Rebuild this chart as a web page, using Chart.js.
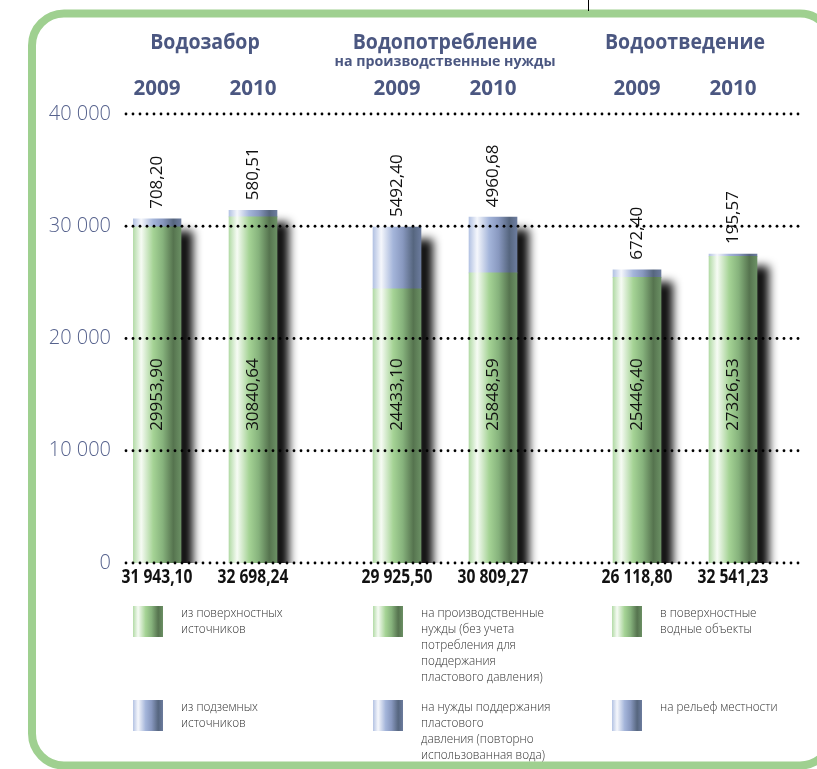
<!DOCTYPE html>
<html>
<head>
<meta charset="utf-8">
<script src="https://cdn.jsdelivr.net/npm/chart.js@4/dist/chart.umd.min.js"></script>
<style>
  html, body { margin: 0; padding: 0; background: #fff; overflow: hidden; }
  #wrap { width: 817px; height: 769px; position: relative; overflow: hidden; }
  canvas { display: block; }
</style>
</head>
<body>
<div id="wrap"><canvas id="canvas" width="817" height="769"></canvas></div>
<script>
// data
var groups = ['Водозабор', 'Водопотребление', 'Водоотведение'];
var groupSub = ['', 'на производственные нужды', ''];
var years = ['2009', '2010', '2009', '2010', '2009', '2010'];
var greenValues = [29953.90, 30840.64, 24433.10, 25848.59, 25446.40, 27326.53];
var blueValues = [708.20, 580.51, 5492.40, 4960.68, 672.40, 195.57];
var greenLabels = ['29953,90', '30840,64', '24433,10', '25848,59', '25446,40', '27326,53'];
var blueLabels = ['708,20', '580,51', '5492,40', '4960,68', '672,40', '195,57'];
var totals = ['31 943,10', '32 698,24', '29 925,50', '30 809,27', '26 118,80', '32 541,23'];
var yTicks = [0, 10000, 20000, 30000, 40000];
var legendGreen = [
    ['из поверхностных', 'источников'],
    ['на производственные', 'нужды (без учета', 'потребления для', 'поддержания', 'пластового давления)'],
    ['в поверхностные', 'водные объекты']
];
var legendBlue = [
    ['из подземных', 'источников'],
    ['на нужды поддержания', 'пластового', 'давления (повторно', 'использованная вода)'],
    ['на рельеф местности']
];

var greenStops = [[0, '#b3dba7'], [0.17, '#f6fbf4'], [0.42, '#a5d395'], [0.62, '#86b27c'], [0.84, '#56744f'], [1, '#6b9064']];
var blueStops = [[0, '#b4c3e3'], [0.17, '#f5f7fc'], [0.42, '#a4b5da'], [0.62, '#8898bf'], [0.84, '#56667f'], [1, '#6c7c9e']];

// slots: bar, gap, bar, gap, gap, ... so the groups sit apart
var slotLabels = [];
var slotBar = [];
var b = 0;
for (var g = 0; g < groups.length; g++) {
    slotLabels.push(years[b]); slotBar.push(b); b++;
    slotLabels.push(''); slotBar.push(-1);
    slotLabels.push(years[b]); slotBar.push(b); b++;
    if (g < groups.length - 1) {
        slotLabels.push(''); slotBar.push(-1);
        slotLabels.push(''); slotBar.push(-1);
    }
}
slotLabels.push(''); slotBar.push(-1);

var greenData = slotBar.map(i => i < 0 ? null : greenValues[i]);
var blueData = slotBar.map(i => i < 0 ? null : blueValues[i]);

function shade(stops) {
    return function (c) {
        var ch = c.chart;
        var xs = ch.scales.x;
        if (!ch.chartArea || !xs) return stops[2][1];
        var cx = xs.getPixelForValue(c.dataIndex);
        var w = xs.getPixelForValue(1) - xs.getPixelForValue(0);
        var gr = ch.ctx.createLinearGradient(cx - w / 2, 0, cx + w / 2, 0);
        stops.forEach(s => gr.addColorStop(s[0], s[1]));
        return gr;
    };
}

function txt(ctx, s, x, y, font, color, align, sx) {
    ctx.save();
    ctx.font = font;
    ctx.fillStyle = color;
    ctx.textAlign = align;
    ctx.textBaseline = 'middle';
    ctx.translate(x, y);
    ctx.scale(sx, 1);
    ctx.fillText(s, 0, 0);
    ctx.restore();
}

var headColor = '#4b5781';

var decor = {
    id: 'decor',
    beforeDraw: function (chart) {
        var ctx = chart.ctx;
        ctx.save();
        ctx.fillStyle = '#fff';
        ctx.fillRect(0, 0, chart.width, chart.height);
        // frame, its right side runs off the page
        ctx.strokeStyle = '#9fd090';
        ctx.lineWidth = 8;
        ctx.beginPath();
        ctx.roundRect(32, 13.5, 800, 752, 32);
        ctx.stroke();
        ctx.strokeStyle = '#000';
        ctx.lineWidth = 1;
        ctx.beginPath();
        ctx.moveTo(588.5, 0);
        ctx.lineTo(588.5, 11);
        ctx.stroke();
        ctx.restore();
    },
    beforeDatasetsDraw: function (chart) {
        var ctx = chart.ctx;
        var top = chart.getDatasetMeta(1).data;
        var bottom = chart.getDatasetMeta(0).data;
        ctx.save();
        ctx.beginPath();
        ctx.rect(chart.chartArea.left, chart.chartArea.top - 40, chart.chartArea.width, chart.chartArea.height + 40);
        ctx.clip();
        ctx.filter = 'blur(5px)';
        ctx.fillStyle = 'rgba(0,0,0,0.95)';
        slotBar.forEach(function (bi, k) {
            if (bi < 0) return;
            var el = top[k], el0 = bottom[k];
            var right = el.x + el.width / 2;
            ctx.fillRect(right - 6, el.y + 12, 18, el0.base - el.y);
        });
        ctx.restore();
    },
    afterDatasetsDraw: function (chart) {
        var ctx = chart.ctx;
        var ys = chart.scales.y;
        var xs = chart.scales.x;
        // dotted grid
        ctx.save();
        ctx.fillStyle = '#000';
        yTicks.forEach(function (v) {
            var y = ys.getPixelForValue(v);
            for (var x = 126; x <= 801; x += 7) {
                ctx.beginPath();
                ctx.arc(x, y, 1.4, 0, Math.PI * 2);
                ctx.fill();
            }
        });
        ctx.restore();

        var top = chart.getDatasetMeta(1).data;
        var labelLevel = ys.getPixelForValue(15000);
        slotBar.forEach(function (bi, k) {
            if (bi < 0) return;
            var cx = xs.getPixelForValue(k);
            // values inside and above bars
            ctx.save();
            ctx.translate(cx, labelLevel);
            ctx.rotate(-Math.PI / 2);
            ctx.font = '17px "Open Sans"';
            ctx.fillStyle = '#111';
            ctx.textAlign = 'center';
            ctx.textBaseline = 'middle';
            ctx.fillText(greenLabels[bi], 0, 0);
            ctx.restore();
            ctx.save();
            ctx.translate(cx, top[k].y - 10);
            ctx.rotate(-Math.PI / 2);
            ctx.font = '17px "Open Sans"';
            ctx.fillStyle = '#111';
            ctx.textAlign = 'left';
            ctx.textBaseline = 'middle';
            ctx.fillText(blueLabels[bi], 0, 0);
            ctx.restore();
            // years and totals
            txt(ctx, years[bi], cx, 89, 'bold 21px "Open Sans"', headColor, 'center', 0.98);
            txt(ctx, totals[bi], cx, 578, 'bold 19px "Open Sans"', '#111', 'center', 0.82);
        });

        // group headings
        for (var g = 0; g < groups.length; g++) {
            var c = (xs.getPixelForValue(slotBar.indexOf(g * 2)) + xs.getPixelForValue(slotBar.indexOf(g * 2 + 1))) / 2;
            txt(ctx, groups[g], c, 43, 'bold 21px "Open Sans"', headColor, 'center', 0.93);
            if (groupSub[g]) txt(ctx, groupSub[g], c, 62, 'bold 14.5px "Open Sans"', headColor, 'center', 0.98);
        }

        // legend
        var colX = [133, 373, 612];
        var rowY = [606, 700];
        [legendGreen, legendBlue].forEach(function (rows, r) {
            var stops = r === 0 ? greenStops : blueStops;
            rows.forEach(function (lines, col) {
                var x = colX[col], y = rowY[r];
                var gr = ctx.createLinearGradient(x, 0, x + 30, 0);
                stops.forEach(s => gr.addColorStop(s[0], s[1]));
                ctx.fillStyle = gr;
                ctx.fillRect(x, y, 30, 31);
                lines.forEach(function (line, li) {
                    txt(ctx, line, x + 48, y + 7 + li * 16, '300 13.5px "Open Sans"', '#333', 'left', 0.87);
                });
            });
        });
    }
};

var ctx = document.getElementById('canvas').getContext('2d');
new Chart(ctx, {
    type: 'bar',
    data: {
        labels: slotLabels,
        datasets: [{
            label: 'green',
            data: greenData,
            backgroundColor: shade(greenStops),
            borderWidth: 0,
            barPercentage: 1,
            categoryPercentage: 1
        }, {
            label: 'blue',
            data: blueData,
            backgroundColor: shade(blueStops),
            borderWidth: 0,
            barPercentage: 1,
            categoryPercentage: 1
        }]
    },
    options: {
        responsive: false,
        animation: false,
        layout: { padding: { left: 0, right: 12, top: 114, bottom: 206 } },
        plugins: { legend: { display: false }, tooltip: { enabled: false } },
        scales: {
            x: { stacked: true, display: false },
            y: {
                stacked: true,
                min: 0,
                max: 40000,
                afterFit: function (s) { s.width = 133; },
                afterBuildTicks: function (s) { s.ticks = yTicks.map(v => ({ value: v })); },
                grid: { display: false },
                border: { display: false },
                ticks: {
                    padding: 14,
                    color: '#56628d',
                    font: { family: 'Open Sans', size: 20, weight: 300 },
                    callback: v => v === 0 ? '0' : String(v).replace(/(\d)(?=(\d{3})+$)/g, '$1 ')
                }
            }
        }
    },
    plugins: [decor]
});
</script>
</body>
</html>
